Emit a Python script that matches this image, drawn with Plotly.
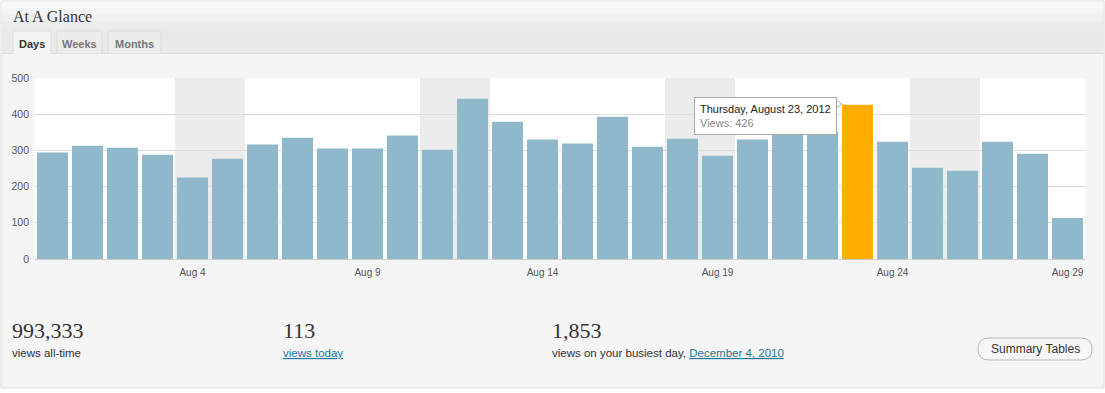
import plotly.graph_objects as go

# ---- data ----
days = ["Jul 31", "Aug 1", "Aug 2", "Aug 3", "Aug 4", "Aug 5", "Aug 6", "Aug 7", "Aug 8", "Aug 9",
        "Aug 10", "Aug 11", "Aug 12", "Aug 13", "Aug 14", "Aug 15", "Aug 16", "Aug 17", "Aug 18", "Aug 19",
        "Aug 20", "Aug 21", "Aug 22", "Aug 23", "Aug 24", "Aug 25", "Aug 26", "Aug 27", "Aug 28", "Aug 29"]
views = [294, 313, 307, 288, 225, 277, 316, 335, 305, 305,
         341, 302, 443, 379, 330, 319, 393, 310, 332, 285,
         330, 350, 352, 426, 324, 252, 244, 324, 291, 113]
weekend_days = ["Aug 4", "Aug 5", "Aug 11", "Aug 12", "Aug 18", "Aug 19", "Aug 25", "Aug 26"]
tick_days = ["Aug 4", "Aug 9", "Aug 14", "Aug 19", "Aug 24", "Aug 29"]
y_ticks = [0, 100, 200, 300, 400, 500]
highlight_day = "Aug 23"
highlight_title = "Thursday, August 23, 2012"
tabs = ["Days", "Weeks", "Months"]
stat_values = ["993,333", "113", "1,853"]
stat_labels = ["views all-time", "views today", "views on your busiest day, "]
busiest_date = "December 4, 2010"

# ---- geometry helpers (pixel -> paper) ----
W, H = 1105, 393
L, R, T, B = 35, 1085, 78, 259
def px(x):
    return (x - L) / (R - L)
def py(y):
    return (B - y) / (B - T)

SANS = "Helvetica, Arial, 'Liberation Sans', sans-serif"
SERIF = "Georgia, 'Liberation Serif', serif"
BAR = "#8fb8cb"
HI = "#ffae00"
LINK = "#21759b"

colors = [HI if d == highlight_day else BAR for d in days]

fig = go.Figure(go.Bar(x=days, y=views, marker=dict(color=colors, line=dict(width=0)),
                       hoverinfo="skip"))

shapes = []
# panel
shapes.append(dict(type="rect", xref="paper", yref="paper", x0=px(1), x1=px(1104), y0=py(388), y1=py(1),
                   fillcolor="#f5f5f5", line=dict(color="#dcdcdc", width=1), layer="below"))
# header bands (gradient approximation)
hdr = [("#f8f8f8", 1.5, 8), ("#f4f4f4", 8, 15), ("#f0f0f0", 15, 22), ("#ececec", 22, 28), ("#e9e9e9", 28, 53.5)]
for c, a, b in hdr:
    shapes.append(dict(type="rect", xref="paper", yref="paper", x0=px(1.5), x1=px(1103.5), y0=py(b), y1=py(a),
                       fillcolor=c, line=dict(width=0), layer="below"))
shapes.append(dict(type="line", xref="paper", yref="paper", x0=px(1.5), x1=px(1103.5), y0=py(53.5), y1=py(53.5),
                   line=dict(color="#dadada", width=1), layer="below"))
# tabs
tab_x = [(13, 51), (57, 102), (108, 161)]
for i, (a, b) in enumerate(tab_x):
    active = i == 0
    shapes.append(dict(type="path", xref="paper", yref="paper",
                       path=f"M {px(a)},{py(54 if active else 53.5)} L {px(a)},{py(33)} Q {px(a)},{py(31)} {px(a+2)},{py(31)} "
                            f"L {px(b-2)},{py(31)} Q {px(b)},{py(31)} {px(b)},{py(33)} L {px(b)},{py(54 if active else 53.5)}",
                       fillcolor="#f5f5f5" if active else "#ececec",
                       line=dict(color="#dcdcdc", width=1), layer="below"))
shapes.append(dict(type="rect", xref="paper", yref="paper", x0=px(13.5), x1=px(50.5), y0=py(55), y1=py(52.5),
                   fillcolor="#f5f5f5", line=dict(width=0), layer="below"))
# white plot area
shapes.append(dict(type="rect", xref="paper", yref="paper", x0=0, x1=1, y0=0, y1=1,
                   fillcolor="white", line=dict(width=0), layer="below"))
# weekend shading
for d in weekend_days:
    i = days.index(d)
    shapes.append(dict(type="rect", xref="x", yref="y", x0=i - 0.5, x1=i + 0.5, y0=0, y1=y_ticks[-1],
                       fillcolor="#ececec", line=dict(width=0), layer="below"))
# button
bx0, bx1, by0, by1, r = 978, 1092, 338, 360, 11
shapes.append(dict(type="path", xref="paper", yref="paper",
                   path=f"M {px(bx0+r)},{py(by0)} L {px(bx1-r)},{py(by0)} Q {px(bx1)},{py(by0)} {px(bx1)},{py((by0+by1)/2)} "
                        f"Q {px(bx1)},{py(by1)} {px(bx1-r)},{py(by1)} L {px(bx0+r)},{py(by1)} "
                        f"Q {px(bx0)},{py(by1)} {px(bx0)},{py((by0+by1)/2)} Q {px(bx0)},{py(by0)} {px(bx0+r)},{py(by0)} Z",
                   fillcolor="#f7f7f7", line=dict(color="#b8b8b8", width=1), layer="above"))
# tooltip pointer
shapes.append(dict(type="path", xref="paper", yref="paper",
                   path=f"M {px(836.5)},{py(100)} L {px(842)},{py(104)} L {px(836.5)},{py(108)} Z",
                   fillcolor="white", line=dict(color="#aaaaaa", width=1), layer="above"))

ann = []
ann.append(dict(text="At A Glance", x=px(11), y=py(16), xref="paper", yref="paper", xanchor="left", yanchor="middle",
                showarrow=False, font=dict(family=SERIF, size=16, color="#333")))
tab_centers = [32, 79.5, 134.5]
for i, t in enumerate(tabs):
    ann.append(dict(text=f"<b>{t}</b>", x=px(tab_centers[i]), y=py(44), xref="paper", yref="paper",
                    xanchor="center", yanchor="middle", showarrow=False,
                    font=dict(family=SANS, size=11, color="#333" if i == 0 else "#777")))
# tooltip
hi_val = views[days.index(highlight_day)]
ann.append(dict(text=f"{highlight_title}<br><span style='color:#888'>Views: {hi_val}</span>",
                x=px(837), y=py(97), xref="paper", yref="paper", xanchor="right", yanchor="top",
                align="left", showarrow=False, bgcolor="white", bordercolor="#aaaaaa", borderwidth=1, borderpad=5,
                font=dict(family=SANS, size=11, color="#222")))
# stats
stat_x = [10, 281, 550]
for i in range(3):
    ann.append(dict(text=stat_values[i], x=px(stat_x[i]), y=py(330), xref="paper", yref="paper",
                    xanchor="left", yanchor="middle", showarrow=False,
                    font=dict(family=SERIF, size=22, color="#333")))
ann.append(dict(text=stat_labels[0], x=px(10), y=py(353), xref="paper", yref="paper", xanchor="left",
                yanchor="middle", showarrow=False, font=dict(family=SANS, size=11.5, color="#333")))
ann.append(dict(text=f"<u>{stat_labels[1]}</u>", x=px(281), y=py(353), xref="paper", yref="paper", xanchor="left",
                yanchor="middle", showarrow=False, font=dict(family=SANS, size=11.5, color=LINK)))
ann.append(dict(text=f"{stat_labels[2]}<span style='color:{LINK}'><u>{busiest_date}</u></span>",
                x=px(550), y=py(353), xref="paper", yref="paper", xanchor="left",
                yanchor="middle", showarrow=False, font=dict(family=SANS, size=11.5, color="#333")))
ann.append(dict(text="Summary Tables", x=px((bx0 + bx1) / 2), y=py((by0 + by1) / 2), xref="paper", yref="paper",
                xanchor="center", yanchor="middle", showarrow=False, font=dict(family=SANS, size=12, color="#333")))

fig.update_layout(
    width=W, height=H,
    margin=dict(l=L, r=W - R, t=T, b=H - B, pad=0),
    paper_bgcolor="white", plot_bgcolor="white",
    bargap=4 / 35,
    showlegend=False,
    hovermode=False,
    shapes=shapes,
    annotations=ann,
    xaxis=dict(type="category", tickmode="array", tickvals=tick_days, ticktext=tick_days,
               showgrid=False, ticks="", showline=False, zeroline=False,
               tickfont=dict(family=SANS, size=10, color="#555"), ticklabelstandoff=6),
    yaxis=dict(range=[0, y_ticks[-1]], tickvals=y_ticks, showgrid=True, gridcolor="#dddddd", gridwidth=1,
               zeroline=True, zerolinecolor="#cccccc", zerolinewidth=1, ticks="", showline=False,
               tickfont=dict(family=SANS, size=10.5, color="#555"), ticklabelstandoff=5),
)

fig.write_html("out.html", config={"displayModeBar": False, "staticPlot": True},
               post_script="document.body.style.margin='0';document.body.style.padding='0';")
